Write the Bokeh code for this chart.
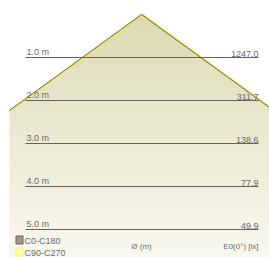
from bokeh.plotting import figure
from bokeh.models import Range1d
from bokeh.core.properties import value
from bokeh.embed import file_html
from bokeh.resources import INLINE
import math

# ---- data ----
distances = [1.0, 2.0, 3.0, 4.0, 5.0]
illuminance = [1247.0, 311.7, 138.6, 77.9, 49.9]
half_angle_deg = {"C0-C180": 54.0, "C90-C270": 54.0}
legend_labels = ["C0-C180", "C90-C270"]
col_header_diam = "Ø (m)"
col_header_lux = "E0(0°) [lx]"

# ---- layout helpers (pixel -> data, 43 px per metre, apex at (141,14) in page px) ----
PPM = 43.0
AX, AY = 141.0, 14.0
OFF = 0
W, H = 269, 257
def px(X):
    return (X - AX) / PPM
def py(Y):
    return (Y - AY) / PPM

p = figure(width=W, height=H, output_backend="svg", toolbar_location=None,
           x_range=Range1d(px(OFF), px(OFF + W)), y_range=Range1d(py(OFF + H), py(OFF)),
           min_border=0, background_fill_color="white", border_fill_color="white")
p.axis.visible = False
p.grid.visible = False
p.outline_line_color = None

# ---- gradient fill of the cone (horizontal strips + white masks) ----
top_c = (220, 217, 178)
mid_c = (232, 230, 204)
bot_c = (249, 248, 238)
def col(t):
    if t < 0.4:
        u = t / 0.4
        c = [top_c[i] + (mid_c[i] - top_c[i]) * u for i in range(3)]
    else:
        u = (t - 0.4) / 0.6
        c = [mid_c[i] + (bot_c[i] - mid_c[i]) * u for i in range(3)]
    return "#%02x%02x%02x" % tuple(int(round(v)) for v in c)

ymax = py(OFF + H)
n = 120
lefts, rights, tops, bots, cols = [], [], [], [], []
for i in range(n):
    y0 = ymax * i / n
    y1 = ymax * (i + 1) / n
    lefts.append(px(9)); rights.append(px(OFF + W + 2))
    tops.append(y0); bots.append(min(y1 + 0.6 / PPM, ymax))
    cols.append(col(i / (n - 1)))
p.quad(left=lefts, right=rights, top=tops, bottom=bots, fill_color=cols, line_color=None)

tan_a = math.tan(math.radians(half_angle_deg["C0-C180"]))
far = 10.0
p.patch([px(-20), 0, -far * tan_a, px(-20)], [py(-20), 0, far, far], fill_color="white", line_color=None)
p.patch([px(300), 0, far * tan_a, px(300)], [py(-20), 0, far, far], fill_color="white", line_color=None)
p.quad(left=[px(-20)], right=[px(300)], top=[py(-20)], bottom=[0], fill_color="white", line_color=None)

# ---- cone outlines (clipped at the left edge of the drawing area) ----
tan_y = math.tan(math.radians(half_angle_deg["C90-C270"]))
sh = 1.0 / PPM
xl = px(9)
dl_a = -xl / tan_a
dl_y = -(xl - sh) / tan_y
p.line([xl, sh, far * tan_y + sh], [dl_y, 0, far], line_color="#f2ea3a", line_width=1.6)
p.line([xl, 0, far * tan_a], [dl_a, 0, far], line_color="#6e6462", line_width=1.0)

# ---- distance lines and labels ----
p.segment(x0=[px(25)] * len(distances), x1=[px(258)] * len(distances), y0=distances, y1=distances,
          line_color="#6b605b", line_width=1.2)
font = value("Liberation Sans")
p.text(x=[px(26)] * len(distances), y=distances, text=["%.1f m" % d for d in distances],
       text_font=font, text_font_size="9px", text_color="#6a6a6a", text_baseline="bottom",
       text_align="left", y_offset=-1)
p.text(x=[px(258)] * len(distances), y=distances, text=["%.1f" % v for v in illuminance],
       text_font=font, text_font_size="9px", text_color="#6a6a6a", text_baseline="bottom",
       text_align="right", y_offset=-1)

# ---- headers ----
p.text(x=[px(141)], y=[py(246)], text=[col_header_diam], text_font=font, text_font_size="8px",
       text_color="#6a6a6a", text_baseline="middle", text_align="center")
p.text(x=[px(258)], y=[py(246)], text=[col_header_lux], text_font=font, text_font_size="8px",
       text_color="#6a6a6a", text_baseline="middle", text_align="right")

# ---- legend ----
p.rect(x=[px(19)], y=[py(239.5)], width=7, height=8, width_units="screen", height_units="screen",
       fill_color="#a19793", line_color="#6e6462", line_width=1)
p.rect(x=[px(19)], y=[py(251.5)], width=7, height=8, width_units="screen", height_units="screen",
       fill_color="#ffff9e", line_color="#f5f08a", line_width=1)
p.text(x=[px(24)] * 2, y=[py(240), py(252)], text=legend_labels, text_font=font, text_font_size="9px",
       text_color="#6a6a6a", text_baseline="middle", text_align="left")

open("out.html", "w").write(file_html(p, INLINE))
